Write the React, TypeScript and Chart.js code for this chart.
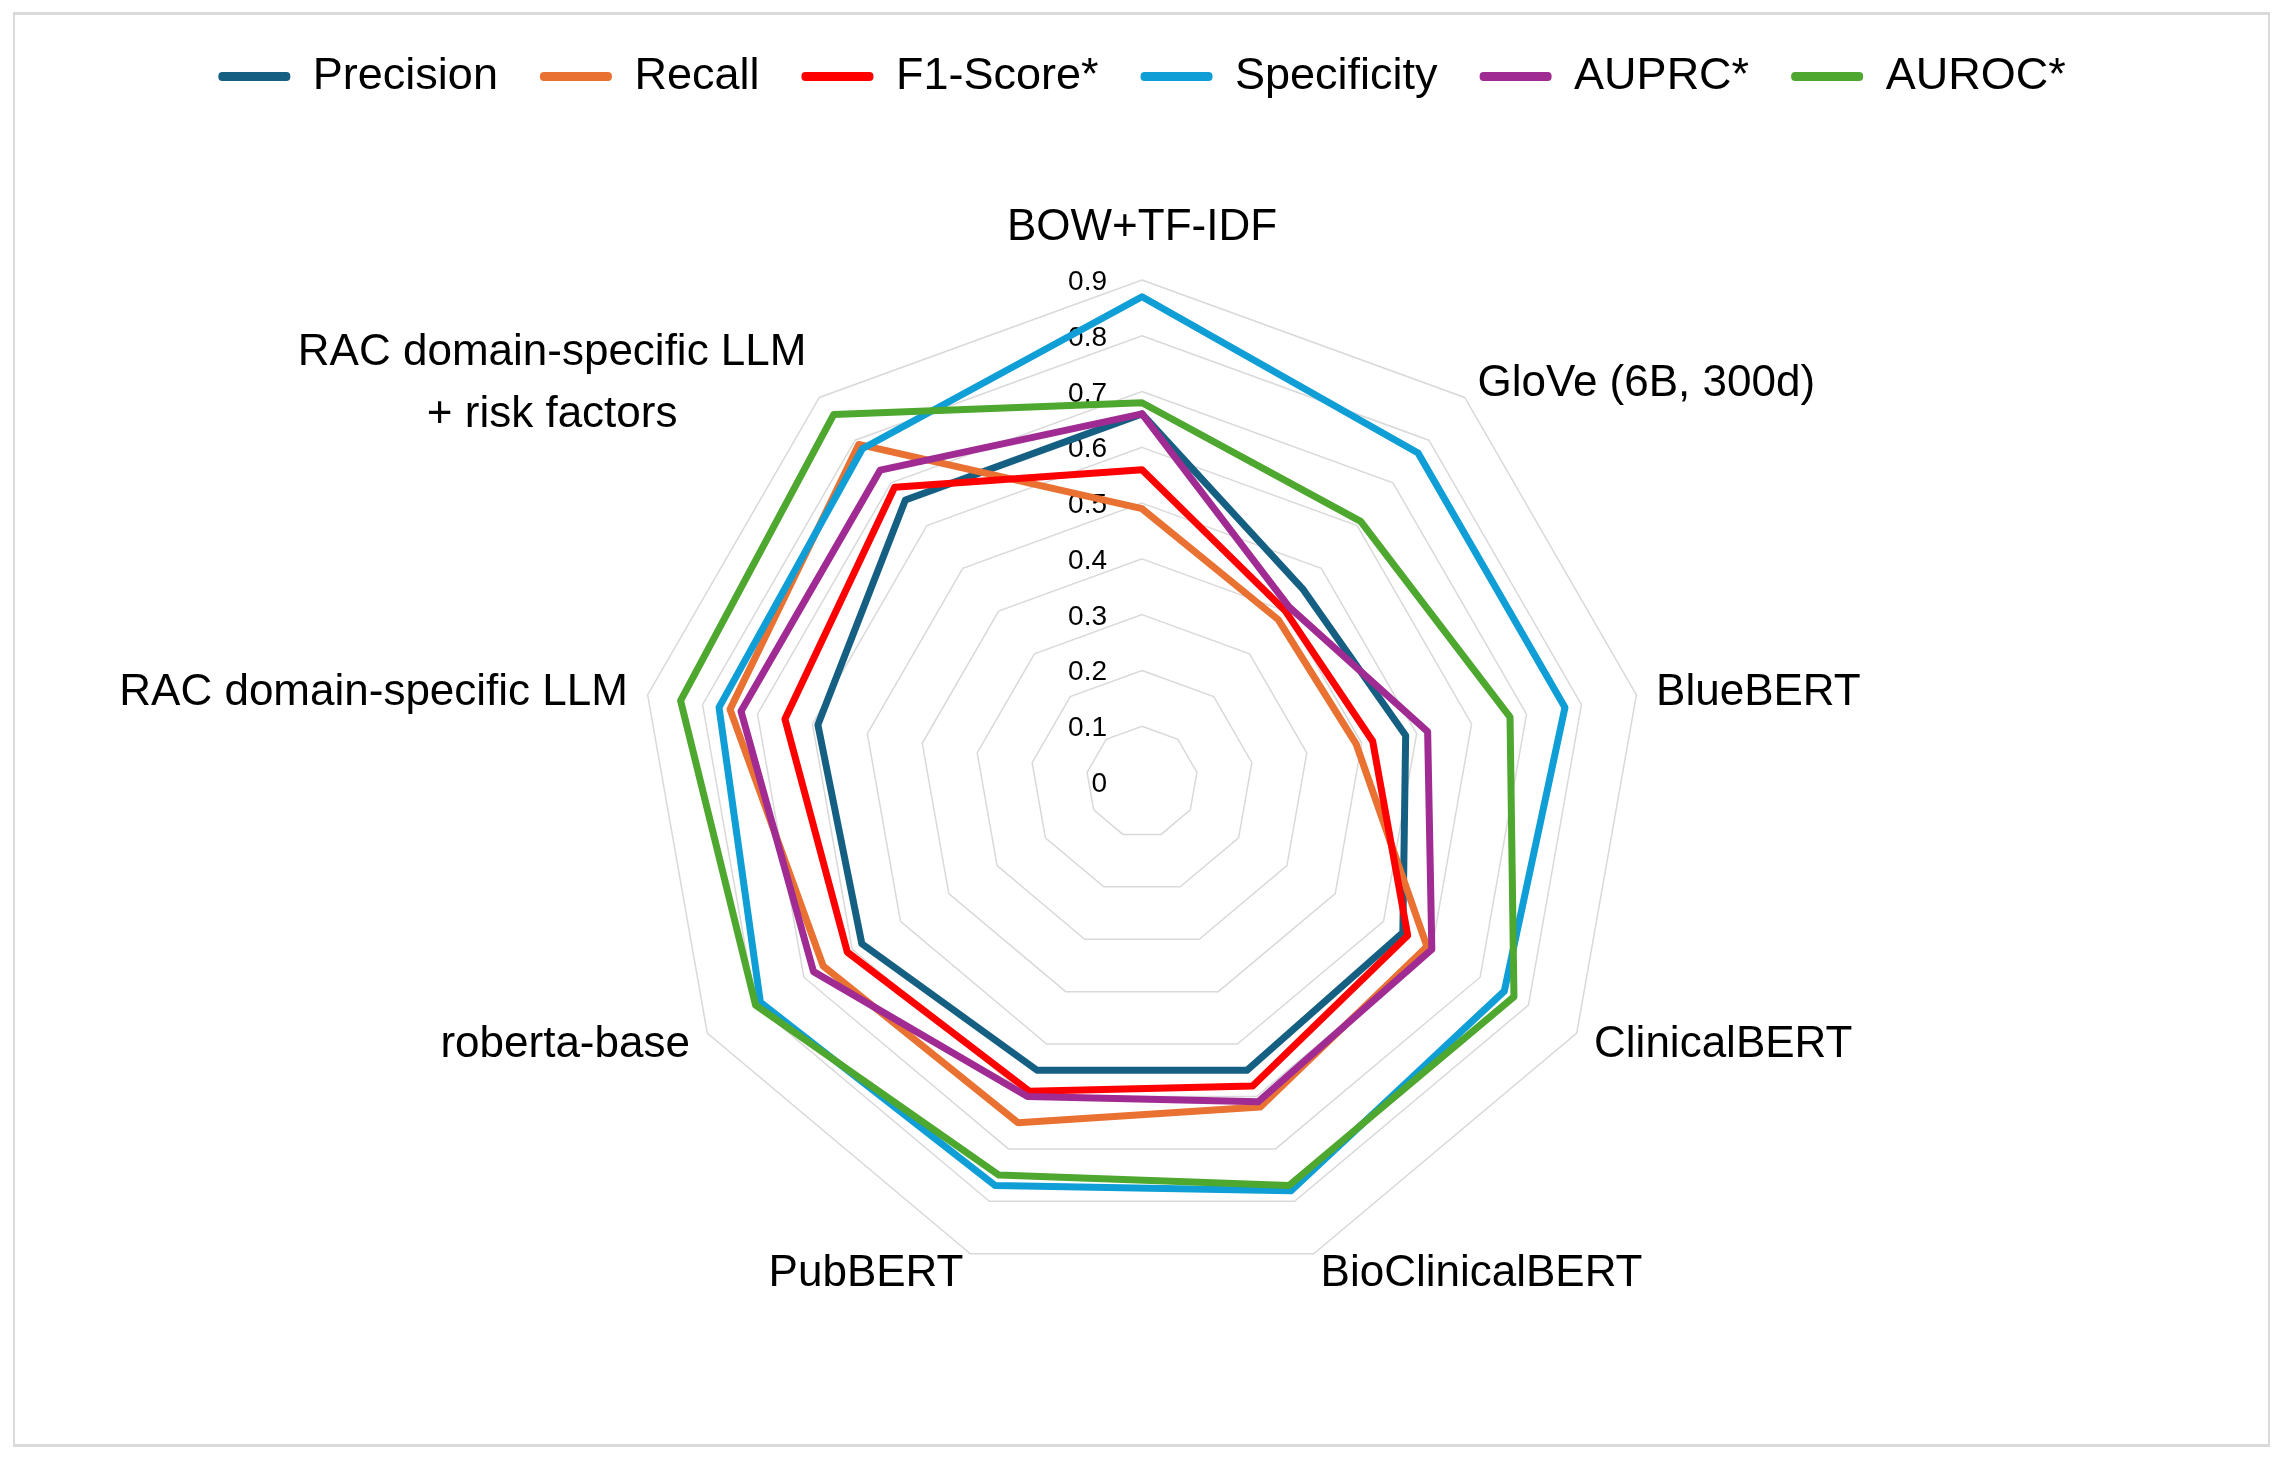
import React, { useEffect, useRef } from "react";
import { Chart, registerables } from "chart.js";

Chart.register(...registerables);

const categories: (string | string[])[] = [
  "BOW+TF-IDF",
  "GloVe (6B, 300d)",
  "BlueBERT",
  "ClinicalBERT",
  "BioClinicalBERT",
  "PubBERT",
  "roberta-base",
  "RAC domain-specific LLM",
  ["RAC domain-specific LLM", "+ risk factors"],
];

const seriesNames = ["Precision", "Recall", "F1-Score*", "Specificity", "AUPRC*", "AUROC*"];
const seriesColors = ["#156082", "#E97132", "#FF0000", "#0F9ED5", "#A02B93", "#4EA72E"];

const precision = [0.66, 0.45, 0.48, 0.54, 0.55, 0.55, 0.58, 0.59, 0.66];
const recall = [0.49, 0.38, 0.39, 0.59, 0.62, 0.65, 0.66, 0.75, 0.79];
const f1Score = [0.56, 0.40, 0.42, 0.55, 0.58, 0.59, 0.61, 0.65, 0.69];
const specificity = [0.87, 0.77, 0.77, 0.75, 0.78, 0.77, 0.79, 0.77, 0.78];
const auprc = [0.66, 0.41, 0.52, 0.60, 0.61, 0.60, 0.68, 0.73, 0.73];
const auroc = [0.68, 0.61, 0.67, 0.77, 0.77, 0.75, 0.80, 0.84, 0.86];

const tickValues = [0, 0.1, 0.2, 0.3, 0.4, 0.5, 0.6, 0.7, 0.8, 0.9];
const tickLabels = ["0", "0.1", "0.2", "0.3", "0.4", "0.5", "0.6", "0.7", "0.8", "0.9"];

const FONT = '"Liberation Sans", Arial, sans-serif';
const LABEL_SIZE = 44;
const TICK_SIZE = 28;

const labelPlugin = {
  id: "radarTextLabels",
  beforeDatasetsDraw(chart: any) {
    const scale = chart.scales.r;
    const ctx = chart.ctx;
    ctx.save();
    ctx.font = `${TICK_SIZE}px ${FONT}`;
    ctx.fillStyle = "#000000";
    ctx.textAlign = "right";
    ctx.textBaseline = "alphabetic";
    tickValues.forEach((v, k) => {
      const p = scale.getPointPositionForValue(0, v);
      ctx.fillText(tickLabels[k], p.x - 35, p.y + 0.358 * TICK_SIZE);
    });
    ctx.restore();
  },
  afterDatasetsDraw(chart: any) {
    const scale = chart.scales.r;
    const ctx = chart.ctx;
    const fs = LABEL_SIZE;
    const lineH = 62;
    ctx.save();
    ctx.font = `${fs}px ${FONT}`;
    ctx.fillStyle = "#000000";
    ctx.textAlign = "center";
    ctx.textBaseline = "alphabetic";
    categories.forEach((label, i) => {
      const lines = Array.isArray(label) ? label : [label];
      const a = scale.getPointPosition(i, scale.drawingArea + 20);
      const ang = scale.getIndexAngle(i);
      const s = Math.sin(ang);
      const c = Math.cos(ang);
      const widths = lines.map((l: string) => ctx.measureText(l).width);
      const maxW = Math.max(...widths);
      let cx = a.x;
      if (Math.abs(s) >= 0.05) cx = s > 0 ? a.x + maxW / 2 : a.x - maxW / 2;
      let firstBaseline: number;
      if (Math.abs(s) < 0.05 && c > 0) {
        firstBaseline = a.y - 20 - (lines.length - 1) * lineH;
      } else {
        const centerY = a.y - 2;
        firstBaseline = centerY - ((lines.length - 1) * lineH) / 2 + 0.358 * fs;
      }
      lines.forEach((l: string, k: number) => {
        ctx.fillText(l, cx, firstBaseline + k * lineH);
      });
    });
    ctx.restore();
  },
};

export default function App() {
  const canvasRef = useRef<HTMLCanvasElement | null>(null);

  useEffect(() => {
    if (!canvasRef.current) return;
    Chart.defaults.font.family = FONT;
    const values = [precision, recall, f1Score, specificity, auprc, auroc];
    const chart = new Chart(canvasRef.current, {
      type: "radar",
      data: {
        labels: categories as any,
        datasets: values.map((vals, i) => ({
          label: seriesNames[i],
          data: vals,
          borderColor: seriesColors[i],
          backgroundColor: seriesColors[i],
          borderWidth: 7,
          borderJoinStyle: "round" as const,
          pointRadius: 0,
          pointHoverRadius: 0,
          fill: false,
          order: values.length - i,
        })),
      },
      options: {
        animation: false,
        responsive: false,
        devicePixelRatio: 1,
        layout: { padding: { top: 12, bottom: 1, left: 3, right: 0 } },
        plugins: {
          tooltip: { enabled: false },
          legend: {
            position: "top",
            labels: {
              boxWidth: 72,
              boxHeight: 9,
              useBorderRadius: true,
              borderRadius: 4,
              padding: 42,
              color: "#000000",
              font: { size: 45, family: FONT },
              generateLabels: (ch: any) =>
                ch.data.datasets.map((ds: any, i: number) => ({
                  text: ds.label,
                  fillStyle: ds.borderColor,
                  strokeStyle: ds.borderColor,
                  lineWidth: 0,
                  hidden: false,
                  datasetIndex: i,
                  borderRadius: 4,
                  fontColor: "#000000",
                })),
            },
          },
        },
        scales: {
          r: {
            min: 0,
            max: 0.9,
            ticks: { display: false, stepSize: 0.1 },
            grid: { color: "#d9d9d9", lineWidth: 1.5 },
            angleLines: { display: false },
            pointLabels: { display: false },
            afterFit: (scale: any) => {
              scale.drawingArea = Math.round(scale.height * 0.3727);
            },
          },
        },
      },
      plugins: [labelPlugin],
    });
    return () => chart.destroy();
  }, []);

  return (
    <div style={{ position: "fixed", left: 0, top: 0, width: 2281, height: 1457, background: "#ffffff", overflow: "hidden" }}>
      <div
        style={{
          position: "absolute",
          left: 13,
          top: 12,
          width: 2257,
          height: 1435,
          borderStyle: "solid",
          borderColor: "#d9d9d9",
          borderWidth: "3px 2px 3px 2px",
          boxSizing: "border-box",
        }}
      />
      <canvas ref={canvasRef} width={2281} height={1457} style={{ position: "absolute", left: 0, top: 0, width: 2281, height: 1457 }} />
    </div>
  );
}
